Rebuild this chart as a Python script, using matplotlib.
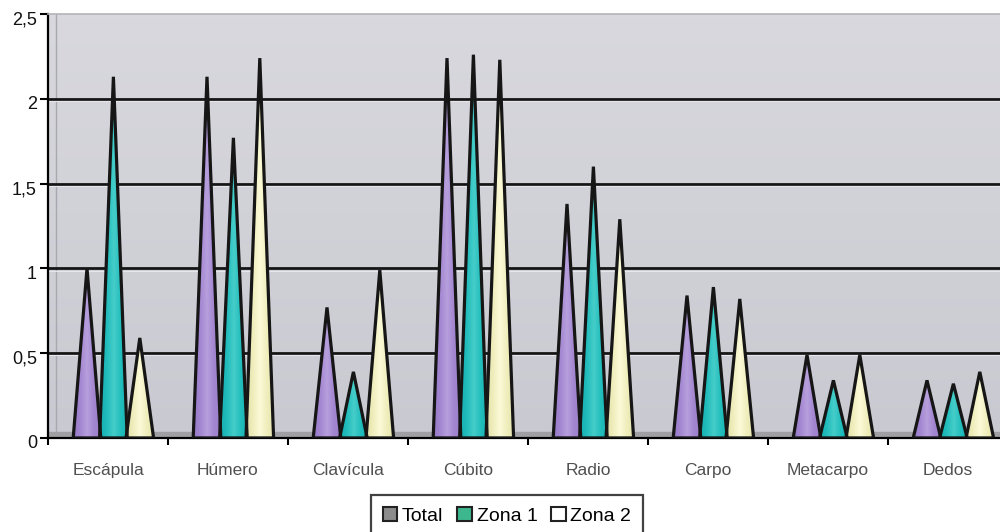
import numpy as np
import matplotlib
matplotlib.use("Agg")
import matplotlib.pyplot as plt
from matplotlib import font_manager
from matplotlib.colors import LinearSegmentedColormap
from matplotlib.patches import Polygon, Patch
from matplotlib.transforms import ScaledTranslation

categories = ["Escápula", "Húmero", "Clavícula", "Cúbito", "Radio", "Carpo", "Metacarpo", "Dedos"]
series_names = ["Total", "Zona 1", "Zona 2"]
total = [1.00, 2.13, 0.77, 2.24, 1.38, 0.84, 0.49, 0.34]
zona1 = [2.13, 1.77, 0.39, 2.26, 1.60, 0.89, 0.34, 0.32]
zona2 = [0.59, 2.24, 0.99, 2.23, 1.29, 0.82, 0.49, 0.39]
yticks = [0, 0.5, 1, 1.5, 2, 2.5]
ytick_labels = ["0", "0,5", "1", "1,5", "2", "2,5"]

names = {f.name for f in font_manager.fontManager.ttflist}
narrow = "Liberation Sans Narrow" if "Liberation Sans Narrow" in names else "Liberation Sans"

# cone gradients: edge, mid, highlight
cone_cols = [
    ["#9478C4", "#A386D0", "#B79FDD", "#A386D0", "#9A7EC8"],
    ["#17AFAF", "#22BDBD", "#45CDC8", "#22BDBD", "#19B2B2"],
    ["#E2E0AA", "#F0EEBC", "#FBFAD9", "#F0EEBC", "#E6E4AF"],
]
legend_cols = ["#8C8C8C", "#3DB88E", "#FFFFFF"]

fig = plt.figure(figsize=(10, 5.32), dpi=100)
W, H = 1000, 532
left_px, right_px, top_px, bot_px = 48, 1008, 14, 438
ax = fig.add_axes([left_px / W, 1 - bot_px / H, (right_px - left_px) / W, (bot_px - top_px) / H])
ax.set_xlim(-0.5, len(categories) - 0.5)
ax.set_ylim(0, 2.5)

# background gradient
bg = LinearSegmentedColormap.from_list("bg", ["#C9C9D1", "#D8D8DE"])
ax.imshow(np.linspace(0, 1, 100).reshape(-1, 1), cmap=bg, aspect="auto",
          extent=[-0.5, len(categories) - 0.5, 0, 2.5], origin="lower", zorder=0)
ax.axvline(-0.43, color="#A8A8B0", lw=1, zorder=0.5)
# floor
ax.axhspan(0, 0.035, color="#A0A0A4", zorder=0.6)

for yv in yticks[1:-1]:
    ax.axhline(yv, color="#151515", lw=2.0, zorder=1)
    ax.axhline(yv - 0.013, color="#E6E6EC", lw=0.8, zorder=1)

offsets = [-0.175, 0.045, 0.265]
width = 0.23
grad = np.linspace(0, 1, 200).reshape(1, -1)
for s, vals in enumerate([total, zona1, zona2]):
    cmap = LinearSegmentedColormap.from_list("c%d" % s, cone_cols[s])
    for i, v in enumerate(vals):
        xc = i + offsets[s]
        pts = [(xc - width / 2, 0), (xc, v), (xc + width / 2, 0)]
        im = ax.imshow(grad, cmap=cmap, aspect="auto",
                       extent=[xc - width / 2, xc + width / 2, 0, v], zorder=2 + s * 0.01)
        poly = Polygon(pts, closed=True, facecolor="none", edgecolor="#161616",
                       lw=2.3, joinstyle="miter", zorder=3)
        ax.add_patch(poly)
        clip = Polygon(pts, closed=True, transform=ax.transData)
        im.set_clip_path(clip)

ax.set_xlim(-0.5, len(categories) - 0.5)
ax.set_ylim(0, 2.5)

ax.set_yticks(yticks)
ax.set_yticklabels(ytick_labels, fontsize=13, family="Liberation Sans", color="#111111")
ax.tick_params(axis="y", length=6, width=1.5, direction="out", pad=2)
off = ScaledTranslation(0, -4 / 100, fig.dpi_scale_trans)
for lab in ax.get_yticklabels():
    lab.set_transform(lab.get_transform() + off)

ax.set_xticks(np.arange(-0.5, len(categories), 1.0))
ax.set_xticklabels([])
ax.tick_params(axis="x", length=5, width=1.5, direction="out")
ax.set_xticks(np.arange(len(categories)), minor=True)
ax.set_xticklabels(categories, minor=True, fontsize=12.5, family=narrow, color="#505050")
ax.tick_params(axis="x", which="minor", length=0, pad=18)

ax.spines["left"].set_linewidth(1.6)
ax.spines["bottom"].set_linewidth(1.6)
ax.spines["top"].set_color("#B4B4B8")
ax.spines["top"].set_linewidth(1.2)
ax.spines["right"].set_visible(False)

handles = [Patch(facecolor=c, edgecolor="#222222", lw=1.5) for c in legend_cols]
leg = fig.legend(handles, series_names, loc="upper center", bbox_to_anchor=(0.507, 1 - 495 / H),
                 ncol=3, frameon=True, fancybox=False, edgecolor="#111111",
                 prop={"family": "Liberation Sans", "size": 14},
                 handlelength=0.75, handleheight=0.75, handletextpad=0.25,
                 columnspacing=0.7, borderpad=0.6, borderaxespad=0)
leg.get_frame().set_linewidth(1.6)

fig.savefig("out.png", dpi=100)
